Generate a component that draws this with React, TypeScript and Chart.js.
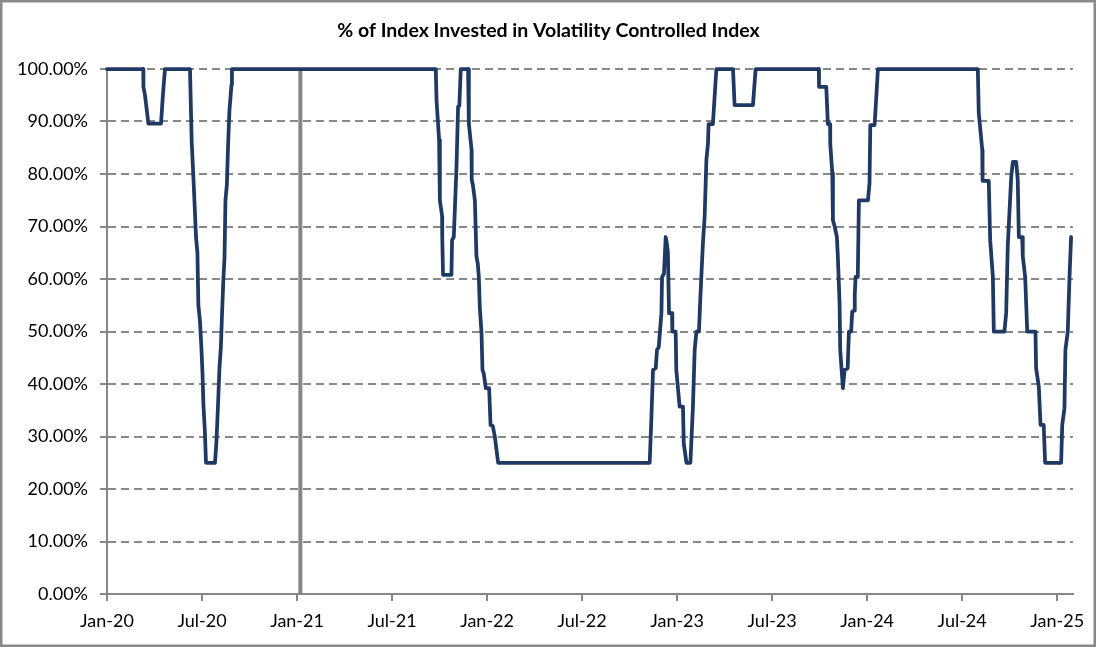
import React, { useEffect, useRef } from "react";
import { Chart, registerables } from "chart.js";

Chart.register(...registerables);

// Months elapsed since Jan-2020 (fractional) for each observation
const months: number[] = [
  0, 2.29, 2.3, 2.4, 2.52, 2.61, 3.41, 3.53, 3.66, 5.24, 5.35, 5.43, 5.52, 5.62, 5.71, 5.77, 5.87, 5.96, 6.03, 6.09, 6.18, 6.25,
  6.82, 6.91, 7.01, 7.1, 7.19, 7.26, 7.35, 7.42, 7.48, 7.57, 7.64, 7.73, 7.86, 7.89,
  20.76, 20.81, 20.97, 21.02, 21.16, 21.17, 21.22, 21.75, 21.79, 21.9, 22.07, 22.17, 22.25, 22.34,
  22.8, 22.85, 23.02, 23.03, 23.1, 23.23, 23.33, 23.41, 23.48, 23.54, 23.65, 23.71, 23.79, 23.92, 24.13, 24.22, 24.36, 24.49, 24.7,
  34.27, 34.38, 34.48, 34.65, 34.73, 34.84, 35.01, 35.05, 35.17, 35.28, 35.34, 35.42, 35.49, 35.68, 35.7, 35.91, 35.95, 36.16, 36.37,
  36.42, 36.59, 36.84, 37.0, 37.11, 37.22, 37.38, 37.47, 37.63, 37.74, 37.85, 37.95, 37.99, 38.26, 38.48, 39.53, 39.63, 40.79, 40.96,
  44.95, 44.96, 45.42, 45.52, 45.66, 45.67, 45.8, 45.84, 45.95, 46.09, 46.15, 46.26, 46.3, 46.47, 46.58, 46.77, 46.85, 46.99, 47.06,
  47.21, 47.22, 47.27, 47.41, 47.48, 48.05, 48.15, 48.2, 48.47, 48.58, 48.68,
  54.99, 55.05, 55.27, 55.29, 55.68, 55.77, 55.94, 56.0, 56.67, 56.78, 56.88, 57.1, 57.2, 57.41, 57.51, 57.58, 57.79, 57.83, 57.98,
  58.11, 58.63, 58.67, 58.84, 58.95, 59.15, 59.24, 60.25, 60.32, 60.46, 60.52, 60.67, 60.78, 60.88,
];

// % of index invested in the volatility controlled index
const invested: number[] = [
  100, 100, 96.6, 95, 92, 89.6, 89.6, 95, 100, 100, 86, 81, 75, 68, 65, 55, 52, 47, 42, 36, 31, 25,
  25, 29, 36, 43, 47, 53, 60, 64, 75, 78, 85, 92, 97, 100,
  100, 94, 86.5, 75, 72, 68, 60.8, 60.8, 67.4, 68, 81.4, 92.8, 93, 100,
  100, 89.6, 84.6, 78.9, 78, 75, 64.3, 63, 60.4, 54.7, 49.7, 42.7, 42, 39.2, 39.2, 32.2, 32, 30, 25,
  25, 33.8, 42.7, 43, 46.5, 47, 53.5, 60.4, 61, 68, 67, 65, 53.5, 53.5, 50, 50, 42.7, 35.7, 35.7,
  28.7, 25, 25, 35.7, 46.5, 50, 50, 56.6, 66.8, 71.9, 82.7, 85.8, 89.5, 89.5, 100, 100, 93.1, 93.1, 100,
  100, 96.6, 96.6, 89.5, 89.5, 85.8, 80.2, 71.2, 70, 68, 64.3, 55.4, 46.5, 39.2, 42.7, 43, 50, 50, 53.8,
  54, 57, 60.4, 60.4, 75, 75, 78.2, 89.3, 89.3, 94.7, 100,
  100, 91.6, 84.6, 78.7, 78.7, 67.4, 60.4, 50, 50, 53.5, 66.2, 79.5, 82.3, 82.3, 78.9, 68, 68, 64.3, 60.4,
  50, 50, 43, 39.5, 32.2, 32.2, 25, 25, 32.2, 35.4, 46.5, 50, 60.4, 68,
];

// Grey marker series (vertical line early Jan-21)
const markerMonths: number[] = [12.21, 12.21];
const markerValues: number[] = [0, 100];

const tickMonths: number[] = [0, 6, 12, 18, 24, 30, 36, 42, 48, 54, 60];
const tickLabels: string[] = [
  "Jan-20", "Jul-20", "Jan-21", "Jul-21", "Jan-22", "Jul-22", "Jan-23", "Jul-23", "Jan-24", "Jul-24", "Jan-25",
];

const TITLE = "% of Index Invested in Volatility Controlled Index";
const FONT = "Lato";

const borderPlugin = {
  id: "outerBorder",
  afterDraw(chart: any) {
    const ctx = chart.ctx;
    ctx.save();
    ctx.strokeStyle = "#898989";
    ctx.lineWidth = 2.5;
    ctx.strokeRect(1.25, 1.25, chart.width - 3.5, chart.height - 3.5);
    ctx.restore();
  },
};

export default function App() {
  const ref = useRef<HTMLCanvasElement | null>(null);

  useEffect(() => {
    document.body.style.margin = "0";
    if (!ref.current) return;
    const chart = new Chart(ref.current, {
      type: "line",
      data: {
        datasets: [
          {
            data: months.map((m, i) => ({ x: m, y: invested[i] })),
            borderColor: "#1F3864",
            borderWidth: 3.75,
            pointRadius: 0,
            tension: 0,
            borderJoinStyle: "round",
            borderCapStyle: "round",
            clip: false as any,
          },
          {
            data: markerMonths.map((m, i) => ({ x: m, y: markerValues[i] })),
            borderColor: "#868686",
            borderWidth: 4,
            pointRadius: 0,
          },
        ],
      },
      options: {
        responsive: false,
        animation: false,
        events: [],
        layout: { padding: 0 },
        plugins: {
          legend: { display: false },
          tooltip: { enabled: false },
          title: {
            display: true,
            text: TITLE,
            color: "#000",
            font: { family: FONT, size: 19.5, weight: "bold" },
            padding: { top: 19, bottom: 26.6 },
          },
        },
        scales: {
          x: {
            type: "linear",
            min: 0,
            max: 61,
            afterBuildTicks: (axis: any) => {
              axis.ticks = tickMonths.map((v) => ({ value: v }));
            },
            afterFit: (axis: any) => {
              axis.height = 54;
            },
            ticks: {
              autoSkip: false,
              maxRotation: 0,
              padding: 9,
              color: "#000",
              font: { family: FONT, size: 18 },
              callback: (v: any) => {
                const i = tickMonths.indexOf(Number(v));
                return i >= 0 ? tickLabels[i] : "";
              },
            },
            grid: {
              drawOnChartArea: false,
              drawTicks: true,
              tickLength: 7,
              color: "#868686",
              lineWidth: 2,
            },
            border: { color: "#868686", width: 2 },
          },
          y: {
            min: 0,
            max: 100,
            afterFit: (axis: any) => {
              axis.width = 107;
            },
            ticks: {
              stepSize: 10,
              padding: 12,
              color: "#000",
              font: { family: FONT, size: 18 },
              callback: (v: any) => Number(v).toFixed(2) + "%",
            },
            grid: {
              color: "#888888",
              lineWidth: 2,
              tickLength: 7,
              tickBorderDash: [],
            },
            border: { color: "#868686", width: 2, dash: [8, 5] },
          },
          // empty right-hand spacer axis (keeps the plot area off the right edge)
          yRight: {
            position: "right",
            min: 0,
            max: 100,
            afterFit: (axis: any) => {
              axis.width = 24;
            },
            ticks: { display: false },
            grid: { display: false, drawOnChartArea: false, drawTicks: false },
            border: { display: false },
          },
        },
      },
      plugins: [borderPlugin],
    } as any);
    return () => chart.destroy();
  }, []);

  return (
    <div style={{ width: 1097, height: 648, background: "#fff" }}>
      <canvas ref={ref} width={1097} height={648} style={{ display: "block" }} />
    </div>
  );
}
